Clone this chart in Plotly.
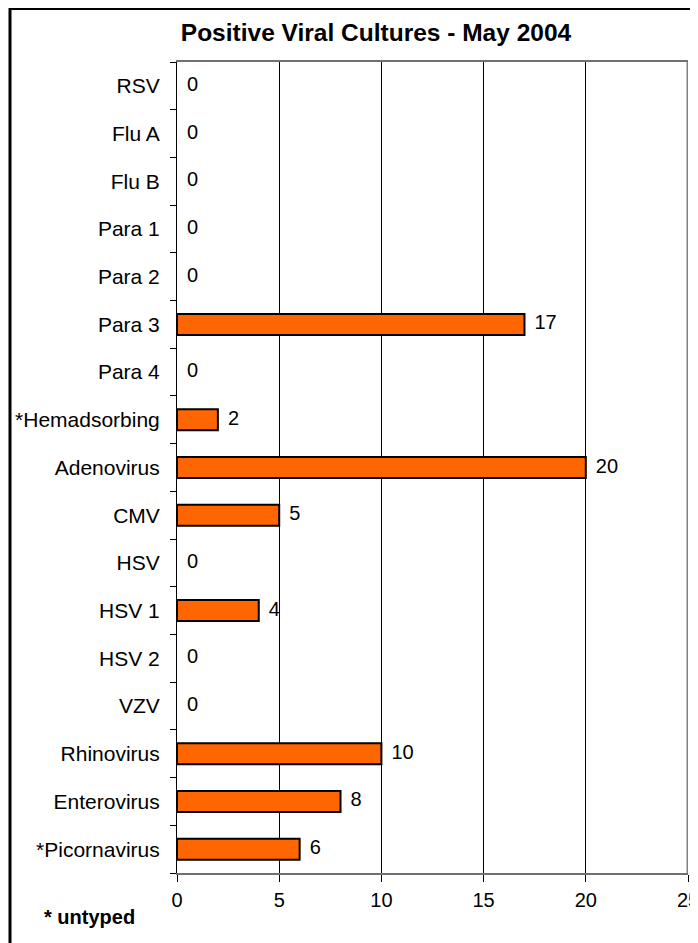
import plotly.graph_objects as go

categories = ["RSV", "Flu A", "Flu B", "Para 1", "Para 2", "Para 3", "Para 4",
              "*Hemadsorbing", "Adenovirus", "CMV", "HSV", "HSV 1", "HSV 2",
              "VZV", "Rhinovirus", "Enterovirus", "*Picornavirus"]
values = [0, 0, 0, 0, 0, 17, 0, 2, 20, 5, 0, 4, 0, 0, 10, 8, 6]
x_ticks = [0, 5, 10, 15, 20, 25]

FONT = "Liberation Sans, Arial, sans-serif"
OFF = 8  # page body margin
W, H = 698 - OFF, 943 - OFF
L, T = 177 - OFF, 62 - OFF
R = W - (688 - OFF)
B = H - (873 - OFF)
PW, PH = W - L - R, H - T - B


def px_x(x):
    return (x - OFF - L) / PW


def px_y(y):
    return (T + PH - (y - OFF)) / PH


fig = go.Figure()
fig.add_trace(go.Bar(
    y=categories, x=values, orientation="h",
    marker=dict(color="#FF6600",
                line=dict(color="black", width=[2 if v > 0 else 0 for v in values])),
    width=0.44, hoverinfo="skip",
))
fig.add_trace(go.Scatter(
    y=categories, x=values, mode="text",
    text=["\u2002" + str(v) for v in values], textposition="middle right",
    textfont=dict(family=FONT, size=20, color="black"),
    hoverinfo="skip", cliponaxis=False,
))

fig.update_layout(
    width=W, height=H,
    margin=dict(l=L, r=R, t=T, b=B, autoexpand=False),
    paper_bgcolor="white", plot_bgcolor="white",
    showlegend=False,
    font=dict(family=FONT, size=20, color="black"),
    title=dict(text="<b>Positive Viral Cultures - May 2004</b>",
               x=(376 - OFF) / W, xanchor="center", y=1 - (32 - OFF) / H,
               yanchor="middle",
               font=dict(family=FONT, size=24.5, color="black")),
    xaxis=dict(range=[0, 25], tickvals=x_ticks, showgrid=True,
               gridcolor="black", gridwidth=1, zeroline=False,
               showline=True, linecolor="#707070", linewidth=2, mirror=True,
               ticks="outside", ticklen=7, tickcolor="black",
               ticklabelstandoff=1, ticklabeloverflow="allow",
               tickfont=dict(size=20)),
    yaxis=dict(categoryorder="array", categoryarray=categories[::-1],
               autorange=False, range=[-0.5, len(categories) - 0.5],
               showgrid=False, zeroline=False,
               showline=True, linecolor="black", linewidth=1,
               ticks="outside", tickson="boundaries", ticklen=6,
               tickcolor="black", ticklabelstandoff=12,
               tickfont=dict(size=21)),
    shapes=[
        dict(type="line", xref="x", yref="paper", x0=25, x1=25, y0=0, y1=1,
             line=dict(color="#808080", width=3)),
        dict(type="rect", xref="paper", yref="paper",
             x0=px_x(10), x1=px_x(720),
             y0=px_y(970), y1=px_y(8.5),
             line=dict(color="black", width=3), fillcolor="rgba(0,0,0,0)",
             layer="below"),
    ],
    annotations=[
        dict(text="<b>* untyped</b>", xref="paper", yref="paper",
             x=px_x(42), xanchor="left",
             y=px_y(917), yanchor="middle", showarrow=False,
             font=dict(family=FONT, size=20, color="black")),
    ],
)

fig.write_html("out.html")
